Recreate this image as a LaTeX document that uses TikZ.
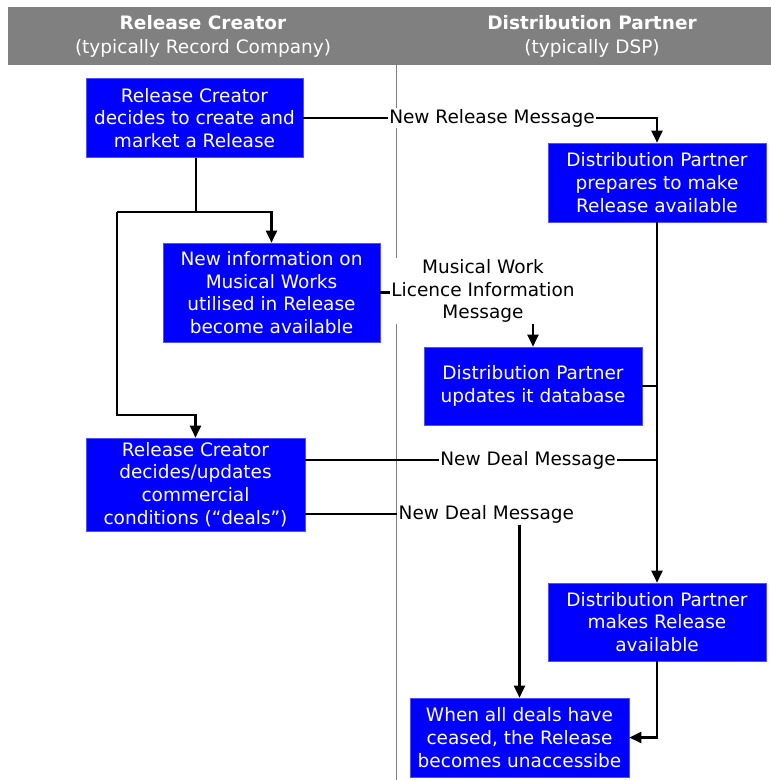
\documentclass[tikz,border=0pt]{standalone}
\usepackage{fontspec}
\setmainfont{DejaVu Sans}
\usetikzlibrary{arrows.meta}
\definecolor{headgrey}{HTML}{808080}
\definecolor{boxblue}{HTML}{0000FF}
\definecolor{boxedge}{HTML}{5050FF}
\begin{document}
\begin{tikzpicture}[x=1pt,y=-1pt,
  box/.style={draw=boxedge, fill=boxblue, text=white, align=center, inner sep=0pt,
    line width=0.6pt, font=\fontsize{18.5}{22.8}\selectfont},
  msg/.style={fill=white, inner sep=1.5pt, align=center, font=\fontsize{18.5}{22.5}\selectfont},
  link/.style={line width=2.4pt},
  flow/.style={line width=2.4pt, -{Triangle[length=12pt,width=11pt]}},
  headtitle/.style={text=white, align=center, font=\fontsize{18.5}{24}\selectfont}]
\useasboundingbox (0,0) rectangle (771,780);

% column header band
\fill[headgrey] (8,7) rectangle (771,65);
\node[headtitle] (hl) at (203,36) {\textbf{Release Creator}\\(typically Record Company)};
\node[headtitle] (hr) at (592,36) {\textbf{Distribution Partner}\\(typically DSP)};

% column divider
\coordinate (dtop) at (396,65);
\coordinate (dbot) at (396,780);
\draw[headgrey, line width=0.8pt] (dtop) -- (dbot);

% process boxes
\node[box, minimum width=217pt, minimum height=79pt] (b1) at (194.5,118)
  {Release Creator\\decides to create and\\market a Release};
\node[box, minimum width=217pt, minimum height=99pt] (b2) at (271.5,292.5)
  {New information on\\Musical Works\\utilised in Release\\become available};
\node[box, minimum width=218pt, minimum height=79pt] (b3) at (657,182.5)
  {Distribution Partner\\prepares to make\\Release available};
\node[box, minimum width=218pt, minimum height=78pt] (b4) at (533,386)
  {Distribution Partner\\updates it database};
\node[box, minimum width=219pt, minimum height=93pt] (b5) at (195.5,484.5)
  {Release Creator\\decides/updates\\commercial\\conditions (``deals'')};
\node[box, minimum width=218pt, minimum height=78pt] (b6) at (657,622)
  {Distribution Partner\\makes Release\\available};
\node[box, minimum width=219pt, minimum height=79pt] (b7) at (519.5,737.5)
  {When all deals have\\ceased, the Release\\becomes unaccessibe};

% message labels
\node[msg] (m1) at (492,118) {New Release Message};
\node[msg] (m2) at (483,291) {Musical Work\\Licence Information\\Message};
\node[msg] (m3) at (528,460) {New Deal Message};
\node[msg, anchor=west] (m4) at (397,514) {New Deal Message};

% branching points
\coordinate (j1) at (196,212);
\coordinate (j2) at (117,212);
\coordinate (j3) at (117,415);
\coordinate (j4) at (657,460);
\coordinate (j5) at (657,386);

% connectors on the creator side
\draw[link] (b1.south -| j1) -- (j1);
\draw[flow] (j2) -- (j1) -| (b2.north);
\draw[flow] (j2) -- (j3) -| (b5.north);

% messages to the partner side
\draw[link] (b1.east) -- (m1.west);
\draw[flow] (m1.east) -| (b3.north);
\draw[link] (b2.east) -- (m2.west |- b2.east);
\draw[flow] (m2.south -| b4.north) -- (b4.north);
\draw[link] (b5.east |- j4) -- (m3.west);
\draw[link] (m3.east) -- (j4);
\draw[link] (b5.east |- m4.west) -- (m4.west);
\draw[flow] (m4.south -| b7.north) -- (b7.north);

% partner side flow
\draw[flow] (b3.south) -- (b6.north);
\draw[link] (b4.east |- j5) -- (j5);
\draw[flow] (b6.south) |- (b7.east);
\end{tikzpicture}
\end{document}
